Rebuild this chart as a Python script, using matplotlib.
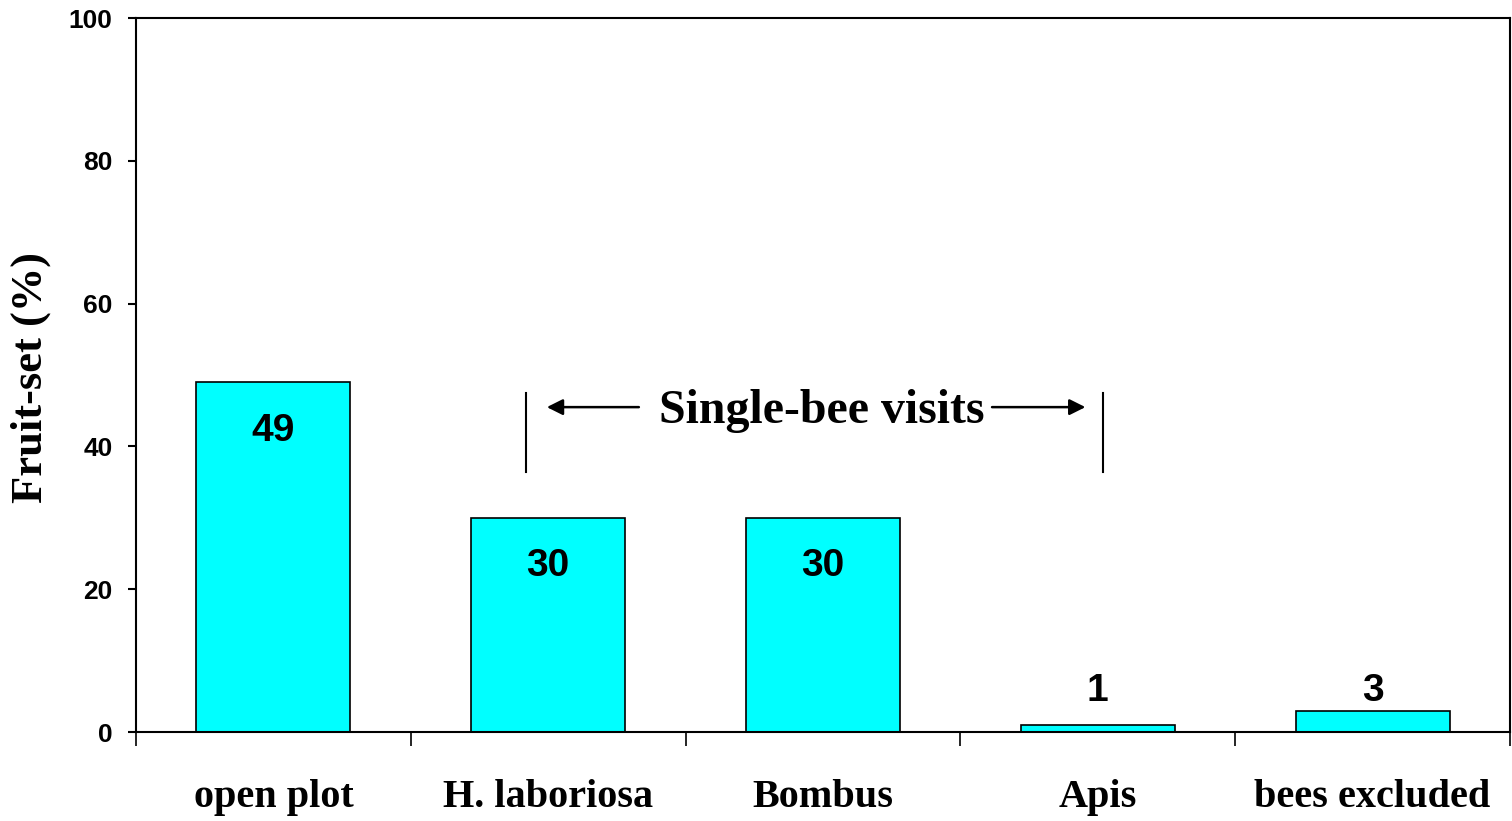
import matplotlib
matplotlib.use("Agg")
import matplotlib.pyplot as plt
import numpy as np

# data
categories = ["open plot", "H. laboriosa", "Bombus", "Apis", "bees excluded"]
fruit_set = [49, 30, 30, 1, 3]
yticks = [0, 20, 40, 60, 80, 100]

fig = plt.figure(figsize=(15.12, 8.21), dpi=100)
ax = fig.add_axes([136 / 1512, 1 - 732 / 821, 1374 / 1512, 714 / 821])

x = np.arange(len(categories))
ax.bar(x, fruit_set, width=0.56, color="#00ffff", edgecolor="black", linewidth=1.2, zorder=2)

# value labels
for xi, v in zip(x, fruit_set):
    ypos = v - 6.8 if v > 10 else 5.8
    ax.text(xi, ypos, str(v), ha="center", va="center", fontsize=28,
            fontweight="bold", family="Liberation Sans")

ax.set_xlim(-0.5, len(categories) - 0.5)
ax.set_ylim(0, 100)

# major ticks at category boundaries, labels on minor ticks
ax.set_xticks(np.arange(-0.5, len(categories)), labels=[])
ax.set_xticks(x, labels=categories, minor=True)
ax.tick_params(axis="x", which="major", direction="out", length=10, width=1.2)
ax.tick_params(axis="x", which="minor", length=0, pad=34)
for lab in ax.get_xticklabels(minor=True):
    lab.set_fontsize(29)
    lab.set_fontweight("bold")
    lab.set_family("Liberation Serif")

ax.set_yticks(yticks)
ax.tick_params(axis="y", direction="out", length=6, width=1.5, pad=11)
for lab in ax.get_yticklabels():
    lab.set_fontsize(19)
    lab.set_fontweight("bold")
    lab.set_family("Liberation Sans")

for s in ax.spines.values():
    s.set_linewidth(1.5)

ax.set_ylabel("Fruit-set (%)", fontsize=32, fontweight="bold", family="Liberation Serif")
ax.yaxis.set_label_coords(-0.062, 0.497)

# single-bee visits annotation
ax.text(1.995, 45.0, "Single-bee visits", ha="center", va="center", fontsize=34.5,
        fontweight="bold", family="Liberation Serif")
ax.annotate("", xy=(0.985, 45.5), xytext=(1.34, 45.5),
            arrowprops=dict(arrowstyle="-|>", color="black", lw=1.8, mutation_scale=24))
ax.annotate("", xy=(2.965, 45.5), xytext=(2.605, 45.5),
            arrowprops=dict(arrowstyle="-|>", color="black", lw=1.8, mutation_scale=24))
ax.plot([0.919, 0.919], [36.4, 47.5], color="black", lw=1.5)
ax.plot([3.019, 3.019], [36.4, 47.5], color="black", lw=1.5)

fig.savefig("out.png", dpi=100)
